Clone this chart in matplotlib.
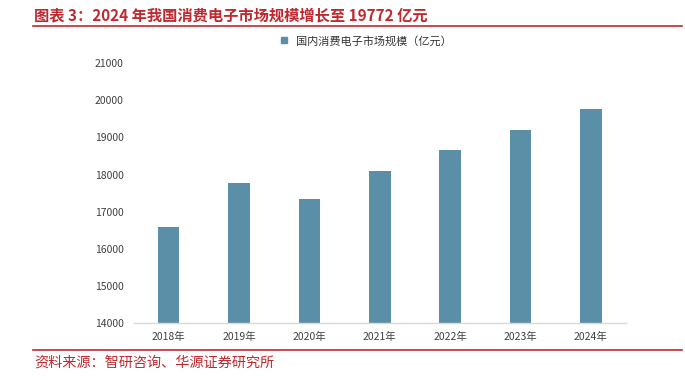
import matplotlib
matplotlib.use('Agg')
import matplotlib.pyplot as plt
from matplotlib.lines import Line2D

plt.rcParams['font.family'] = ['Noto Sans CJK SC', 'DejaVu Sans']

# 数据
years = ['2018年', '2019年', '2020年', '2021年', '2022年', '2023年', '2024年']
market_size = [16590, 17780, 17340, 18100, 18650, 19200, 19772]
y_ticks = [14000, 15000, 16000, 17000, 18000, 19000, 20000, 21000]

title = '图表 3：2024 年我国消费电子市场规模增长至 19772 亿元'
legend_label = '国内消费电子市场规模（亿元）'
source = '资料来源：智研咨询、华源证券研究所'

bar_color = '#5B8FA7'
red = '#C0282F'
text_gray = '#404040'

fig = plt.figure(figsize=(6.85, 3.8), dpi=100)
ax = fig.add_axes([0.195, 0.149, 0.719, 0.685])

x = range(len(years))
ax.bar(x, market_size, width=0.305, color=bar_color, zorder=2)

ax.set_xlim(-0.5, len(years) - 0.5)
ax.set_ylim(y_ticks[0], y_ticks[-1])
ax.set_yticks(y_ticks)
ax.set_yticklabels([str(v) for v in y_ticks])
ax.set_xticks(list(x))
ax.set_xticklabels(years)
ax.tick_params(axis='both', length=0, labelsize=7.5, colors=text_gray)
ax.tick_params(axis='y', pad=7)
ax.tick_params(axis='x', pad=6)

for s in ['top', 'right', 'left']:
    ax.spines[s].set_visible(False)
ax.spines['bottom'].set_color('#D9D9D9')
ax.spines['bottom'].set_linewidth(1.0)

# 图例
handle = Line2D([], [], marker='s', linestyle='none', markersize=4,
                color=bar_color)
fig.legend([handle], [legend_label], loc='center',
           bbox_to_anchor=(362 / 685, 1 - 41 / 380), frameon=False,
           fontsize=8, handletextpad=0.1, labelcolor='#333333')

# 标题与来源
fig.text(34 / 685, 1 - 15 / 380, title, color=red, fontsize=11,
         fontweight='bold', va='center', ha='left')
fig.add_artist(Line2D([33 / 685, 682 / 685], [1 - 26 / 380, 1 - 26 / 380],
                      color=red, linewidth=1.2))
fig.add_artist(Line2D([33 / 685, 682 / 685], [1 - 350 / 380, 1 - 350 / 380],
                      color=red, linewidth=1.2))
fig.text(34 / 685, 1 - 363 / 380, source, color=red, fontsize=10.2,
         va='center', ha='left')

fig.savefig('out.png', dpi=100)
